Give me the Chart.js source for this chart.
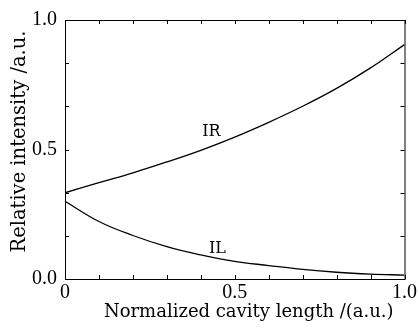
<!DOCTYPE html>
<html>
<head>
<meta charset="utf-8">
<script src="https://cdn.jsdelivr.net/npm/chart.js@4"></script>
<style>
  html, body { margin: 0; padding: 0; background: #fff; }
  #wrap { width: 419px; height: 329px; }
</style>
</head>
<body>
<div id="wrap"><canvas id="chart"></canvas></div>
<script>
// normalized cavity length and the two intensities
const cavityLength = [0, 0.1, 0.2, 0.3, 0.4, 0.5, 0.6, 0.7, 0.8, 0.9, 1.0];
const intensityIR = [0.333, 0.372, 0.41, 0.452, 0.497, 0.548, 0.605, 0.667, 0.736, 0.815, 0.905];
const intensityIL = [0.30, 0.222, 0.168, 0.125, 0.093, 0.068, 0.052, 0.037, 0.026, 0.019, 0.015];

const xTickValues = [0, 0.1, 0.2, 0.3, 0.4, 0.5, 0.6, 0.7, 0.8, 0.9, 1.0];
const xTickLabels = ['0', '', '', '', '', '0.5', '', '', '', '', '1.0'];
const yTickValues = [0, 0.1667, 0.3333, 0.5, 0.6667, 0.8333, 1.0];
const yTickLabels = ['0.0', '', '', '0.5', '', '', '1.0'];

const xTitle = 'Normalized cavity length /(a.u.)';
const yTitle = 'Relative intensity /a.u.';

// curve labels: [text, x, y]
const curveLabels = [['IR', 0.431, 0.568], ['IL', 0.449, 0.117]];

const serif = '"Liberation Serif", "Times New Roman", serif';
const wideSerif = '"DejaVu Serif", serif';
Chart.defaults.font.family = serif;
Chart.defaults.color = '#000';

const toPoints = (ys) => cavityLength.map((x, i) => ({ x: x, y: ys[i] }));

const frame = {
  id: 'frame',
  afterDraw(chart) {
    const ctx = chart.ctx;
    const a = chart.chartArea;
    const xs = chart.scales.x;
    const ys = chart.scales.y;
    const tick = 4;
    ctx.save();
    ctx.strokeStyle = '#000';
    ctx.lineWidth = 1;
    ctx.strokeRect(a.left + 0.5, a.top + 0.5, a.right - a.left, a.bottom - a.top);
    ctx.beginPath();
    xTickValues.forEach(v => {
      const px = Math.round(xs.getPixelForValue(v)) + 0.5;
      ctx.moveTo(px, a.bottom); ctx.lineTo(px, a.bottom - tick);
      ctx.moveTo(px, a.top); ctx.lineTo(px, a.top + tick);
    });
    yTickValues.forEach(v => {
      const py = Math.round(ys.getPixelForValue(v)) + 0.5;
      ctx.moveTo(a.left, py); ctx.lineTo(a.left + tick, py);
      ctx.moveTo(a.right, py); ctx.lineTo(a.right - tick, py);
    });
    ctx.stroke();

    ctx.fillStyle = '#000';
    ctx.textAlign = 'center';
    ctx.textBaseline = 'middle';
    ctx.font = '16px ' + wideSerif;
    curveLabels.forEach(([t, x, y]) => {
      ctx.fillText(t, xs.getPixelForValue(x), ys.getPixelForValue(y));
    });

    // axis titles, set slightly off-centre like the original figure
    ctx.textBaseline = 'alphabetic';
    ctx.font = '18px ' + wideSerif;
    ctx.fillText(xTitle, (a.left + a.right) / 2 + 14, a.bottom + 38);
    ctx.translate(a.left - 40, (a.top + a.bottom) / 2 - 8);
    ctx.rotate(-Math.PI / 2);
    ctx.font = '19.5px ' + wideSerif;
    ctx.fillText(yTitle, 0, 0);
    ctx.restore();
  }
};

new Chart(document.getElementById('chart'), {
  type: 'line',
  data: {
    datasets: [
      { label: 'IR', data: toPoints(intensityIR), borderColor: '#000', borderWidth: 1.3, pointRadius: 0, tension: 0.4, fill: false },
      { label: 'IL', data: toPoints(intensityIL), borderColor: '#000', borderWidth: 1.3, pointRadius: 0, tension: 0.4, fill: false }
    ]
  },
  options: {
    responsive: true,
    maintainAspectRatio: false,
    animation: false,
    devicePixelRatio: 1,
    layout: { padding: { top: 13, right: 13, left: 0, bottom: 0 } },
    plugins: { legend: { display: false }, tooltip: { enabled: false } },
    scales: {
      x: {
        type: 'linear', min: 0, max: 1,
        grid: { display: false, drawTicks: false },
        border: { display: false },
        afterBuildTicks: s => { s.ticks = xTickValues.map(v => ({ value: v })); },
        afterFit: s => { s.height = 50; },
        ticks: {
          autoSkip: false, maxRotation: 0, padding: 2,
          font: { size: 20 },
          callback: (v, i) => xTickLabels[i]
        }
      },
      y: {
        min: 0, max: 1,
        grid: { display: false, drawTicks: false },
        border: { display: false },
        afterBuildTicks: s => { s.ticks = yTickValues.map(v => ({ value: v })); },
        afterFit: s => { s.width = 65; },
        ticks: {
          autoSkip: false, padding: 8,
          font: { size: 20 },
          callback: (v, i) => yTickLabels[i]
        }
      }
    }
  },
  plugins: [frame]
});
</script>
</body>
</html>
